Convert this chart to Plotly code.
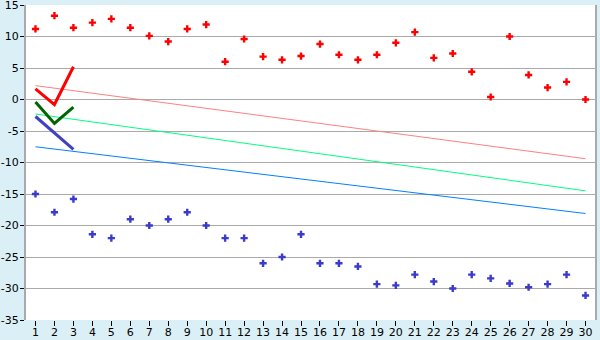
import plotly.graph_objects as go

categories = list(range(1, 31))
red_points = [11.2, 13.3, 11.4, 12.2, 12.8, 11.4, 10.1, 9.2, 11.2, 11.9,
              6.0, 9.6, 6.8, 6.3, 6.9, 8.8, 7.1, 6.3, 7.1, 9.0,
              10.7, 6.6, 7.3, 4.4, 0.4, 10.0, 3.9, 1.9, 2.8, 0.0]
blue_points = [-15.0, -17.9, -15.8, -21.4, -22.0, -19.0, -20.0, -19.0, -17.9, -20.0,
               -22.0, -22.0, -26.0, -25.0, -21.4, -26.0, -26.0, -26.5, -29.3, -29.5,
               -27.8, -28.9, -30.0, -27.8, -28.4, -29.2, -29.8, -29.3, -27.8, -31.1]
short_x = [1, 2, 3]
short_red = [1.7, -0.8, 5.2]
short_green = [-0.4, -3.8, -1.2]
short_blue = [-2.7, -5.3, -7.9]
trend_x = [1, 30]
trend_pink = [2.2, -9.4]
trend_green = [-2.3, -14.5]
trend_blue = [-7.5, -18.1]
y_ticks = [15, 10, 5, 0, -5, -10, -15, -20, -25, -30, -35]
y_labels = ["15", "10", "5", "0", "-5", "-10", "-15", "-20", "-25", "-30", "-35"]

fig = go.Figure()
fig.add_trace(go.Scatter(x=trend_x, y=trend_pink, mode="lines",
                         line=dict(color="#ff8080", width=1)))
fig.add_trace(go.Scatter(x=trend_x, y=trend_green, mode="lines",
                         line=dict(color="#00ff80", width=1)))
fig.add_trace(go.Scatter(x=trend_x, y=trend_blue, mode="lines",
                         line=dict(color="#0080ff", width=1)))
fig.add_trace(go.Scatter(x=short_x, y=short_red, mode="lines",
                         line=dict(color="#ff0000", width=3)))
fig.add_trace(go.Scatter(x=short_x, y=short_green, mode="lines",
                         line=dict(color="#006400", width=3)))
fig.add_trace(go.Scatter(x=short_x, y=short_blue, mode="lines",
                         line=dict(color="#4040c0", width=3)))
fig.add_trace(go.Scatter(x=categories, y=red_points, mode="markers",
                         marker=dict(symbol="cross", size=6, color="#ff0000")))
fig.add_trace(go.Scatter(x=categories, y=blue_points, mode="markers",
                         marker=dict(symbol="cross", size=6, color="#3a3acc")))

fig.update_layout(
    width=600, height=340,
    margin=dict(l=26, r=5, t=5, b=20, autoexpand=False),
    paper_bgcolor="#daf0f6",
    plot_bgcolor="#ffffff",
    showlegend=False,
    font=dict(family="DejaVu Sans", size=11, color="#000000"),
)
fig.update_xaxes(
    range=[0.5, 30.5], tickvals=categories, ticktext=[str(c) for c in categories],
    showgrid=False, zeroline=False, ticks="outside", ticklen=5, tickcolor="#000000",
    showline=False, tickfont=dict(size=11), automargin=False,
    ticklabelstandoff=-3, ticklabeloverflow="allow",
)
fig.update_yaxes(
    range=[-35, 15], tickvals=y_ticks, ticktext=y_labels,
    showgrid=True, gridcolor="#aaaaaa", gridwidth=1, zeroline=False,
    ticks="outside", ticklen=4, tickcolor="#000000",
    showline=True, mirror=True, linecolor="#aaaaaa", linewidth=2,
    tickfont=dict(size=11), automargin=False, ticklabeloverflow="allow",
    ticklabelstandoff=-1,
)
fig.write_html("out.html")
